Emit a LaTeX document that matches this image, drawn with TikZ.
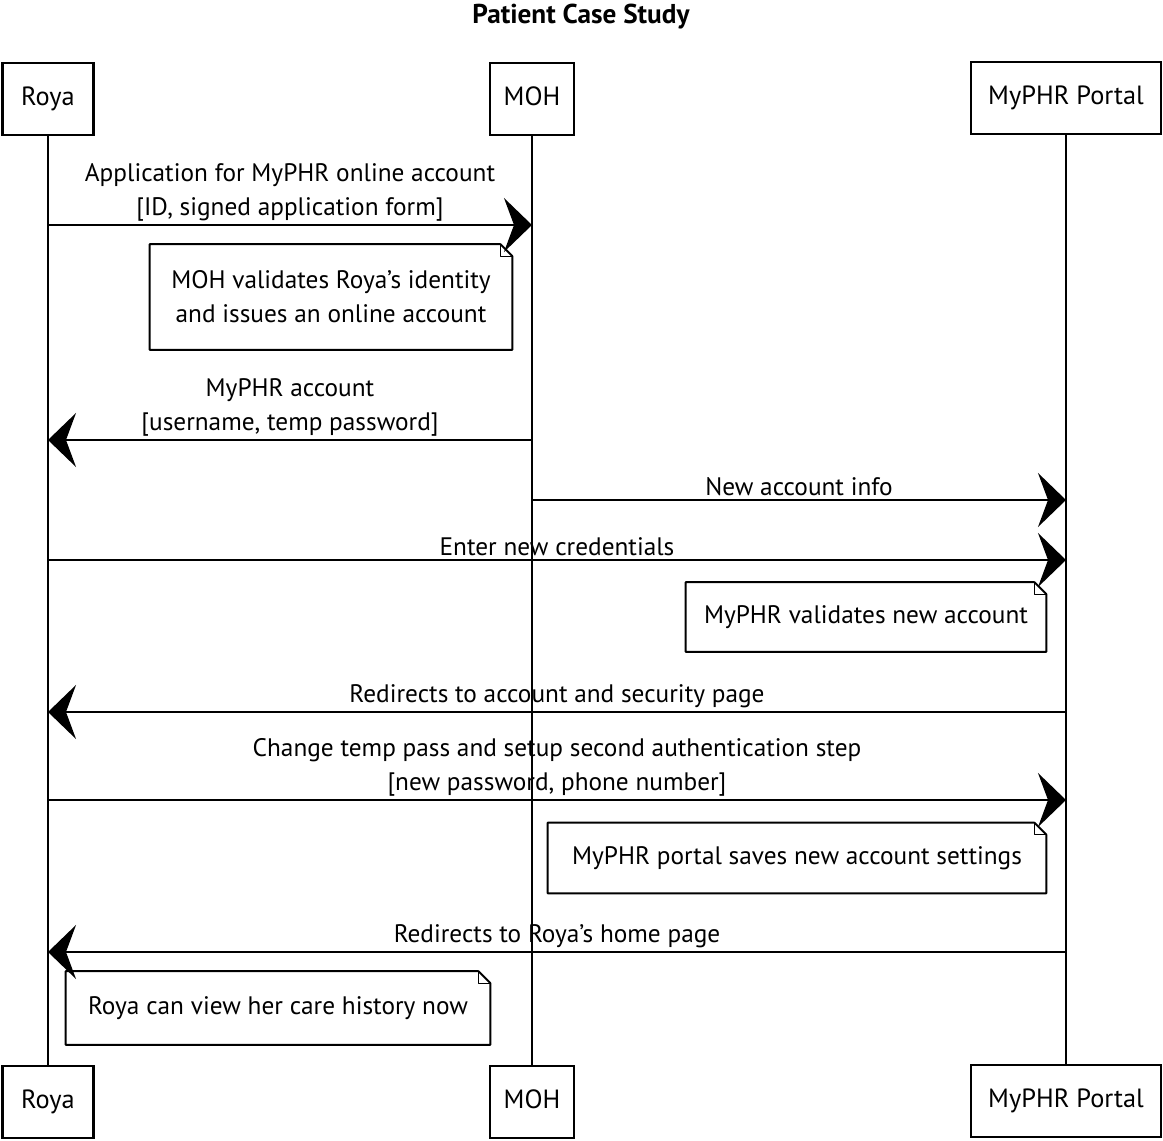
\documentclass[tikz,border=0pt]{standalone}
\usepackage{fontspec}
\setmainfont{PT Sans}
\usetikzlibrary{arrows.meta,calc}

% dog-eared note outline around a named node
\newcommand\dogear[1]{%
  \draw[noteline] (#1.north west) -- ([xshift=-0.24cm]#1.north east)
    -- ([yshift=-0.24cm]#1.north east) -- (#1.south east)
    -- (#1.south west) -- cycle;
  \draw[noteline, line width=0.7pt] ([xshift=-0.24cm]#1.north east)
    |- ([yshift=-0.24cm]#1.north east);}

\begin{document}
\begin{tikzpicture}[x=0.02cm,y=-0.02cm,
  actor/.style={draw, line width=1.2pt, minimum height=1.44cm, inner sep=0,
    text height=11pt, text depth=3.5pt,
    font=\fontsize{15}{18}\selectfont},
  life/.style={line width=0.7pt},
  msg/.style={line width=1.1pt,
    -{Stealth[length=0.56cm,width=1.08cm,inset=0.2cm]}},
  lbl/.style={font=\fontsize{14.4}{19.3}\selectfont, align=center, inner sep=0},
  note/.style={inner sep=0, align=center,
    font=\fontsize{14.4}{19.3}\selectfont},
  noteline/.style={line width=1.1pt, line join=round}
]
\useasboundingbox (0,0) rectangle (1163,1141);

\node[font=\bfseries\fontsize{15.5}{18}\selectfont] (title) at (581,17) {Patient Case Study};

% participants, top and bottom
\node[actor, minimum width=1.82cm] (roya) at (48,99) {Roya};
\node[actor, minimum width=1.68cm] (moh) at (532,99) {MOH};
\node[actor, minimum width=3.8cm] (phr) at (1066,98) {MyPHR Portal};
\node[actor, minimum width=1.82cm] (royab) at (48,1102) {Roya};
\node[actor, minimum width=1.68cm] (mohb) at (532,1102) {MOH};
\node[actor, minimum width=3.8cm] (phrb) at (1066,1101) {MyPHR Portal};

% lifelines
\draw[life] (roya) -- (royab);
\draw[life] (moh) -- (mohb);
\draw[life] (phr) -- (phrb);

% message rows
\coordinate (y1) at (0,225);
\coordinate (y2) at (0,440);
\coordinate (y3) at (0,500);
\coordinate (y4) at (0,560);
\coordinate (y5) at (0,712);
\coordinate (y6) at (0,800);
\coordinate (y7) at (0,952);

\draw[msg] (roya |- y1) -- (moh |- y1);
\node[lbl, above=2pt] (l1) at ($(roya |- y1)!0.5!(moh |- y1)$)
  {Application for MyPHR online account\\{}[ID, signed application form]};

\node[note, minimum width=7.24cm, minimum height=2.1cm] (n1) at (331,297)
  {MOH validates Roya's identity\\ and issues an online account};
\dogear{n1}

\draw[msg] (moh |- y2) -- (roya |- y2);
\node[lbl, above=2pt] (l2) at ($(roya |- y2)!0.5!(moh |- y2)$)
  {MyPHR account\\{}[username, temp password]};

\draw[msg] (moh |- y3) -- (phr |- y3);
\node[lbl, above=2pt] (l3) at ($(moh |- y3)!0.5!(phr |- y3)$) {New account info};

\draw[msg] (roya |- y4) -- (phr |- y4);
\node[lbl, above=2pt] (l4) at ($(roya |- y4)!0.5!(phr |- y4)$) {Enter new credentials};

\node[note, minimum width=7.2cm, minimum height=1.38cm] (n2) at (866,617)
  {MyPHR validates new account};
\dogear{n2}

\draw[msg] (phr |- y5) -- (roya |- y5);
\node[lbl, above=2pt] (l5) at ($(roya |- y5)!0.5!(phr |- y5)$)
  {Redirects to account and security page};

\draw[msg] (roya |- y6) -- (phr |- y6);
\node[lbl, above=2pt] (l6) at ($(roya |- y6)!0.5!(phr |- y6)$)
  {Change temp pass and setup second authentication step\\{}[new password, phone number]};

\node[note, minimum width=9.96cm, minimum height=1.4cm] (n3) at (797,858)
  {MyPHR portal saves new account settings};
\dogear{n3}

\draw[msg] (phr |- y7) -- (roya |- y7);
\node[lbl, above=2pt] (l7) at ($(roya |- y7)!0.5!(phr |- y7)$)
  {Redirects to Roya's home page};

\node[note, minimum width=8.48cm, minimum height=1.46cm] (n4) at (278,1008)
  {Roya can view her care history now};
\dogear{n4}
\end{tikzpicture}
\end{document}
